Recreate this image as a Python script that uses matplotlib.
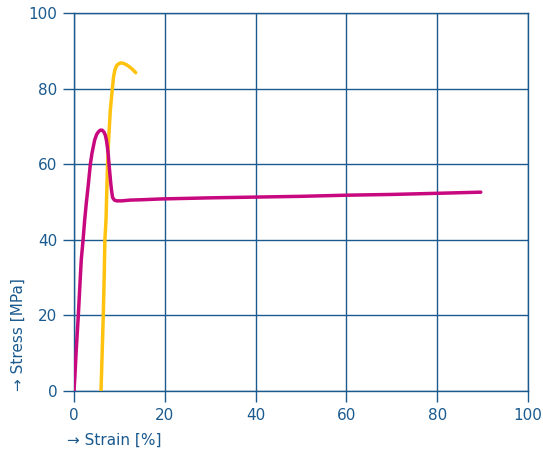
import matplotlib
matplotlib.use('Agg')
import matplotlib.pyplot as plt

# curve data (strain %, stress MPa)
magenta_strain = [0, 0.2, 0.5, 0.95, 1.3, 1.6, 2.0, 2.35, 2.7, 3.1, 3.6, 3.96, 4.55, 5.0, 5.4,
                  5.8, 6.2, 6.6, 6.9, 7.15, 7.35, 7.55, 7.7, 7.9, 8.1, 8.3, 8.5, 8.9, 9.4, 10.5,
                  12.3, 15, 19, 30, 40, 50, 60, 70, 80, 89.6]
magenta_stress = [0, 4, 11, 20, 28, 34.7, 40, 45.2, 49.6, 54, 60, 62.9, 66.4, 67.9, 68.6,
                  69.0, 69.0, 68.5, 67.7, 66.3, 64.6, 62.5, 60.2, 57.5, 54.9, 52.8, 51.2, 50.5, 50.3, 50.3,
                  50.5, 50.6, 50.8, 51.1, 51.3, 51.5, 51.8, 52.0, 52.3, 52.6]

yellow_strain = [5.95, 6.2, 6.45, 6.65, 6.8, 7.05, 7.2, 7.4, 7.65, 8.0, 8.45, 8.7, 9.0, 9.35,
                 9.75, 10.3, 10.85, 11.4, 11.95, 12.8, 13.6]
yellow_stress = [0, 10, 20, 30, 40, 45.2, 52, 60.2, 67, 74.3, 80, 83, 84.9, 86,
                 86.5, 86.8, 86.7, 86.4, 86, 85.2, 84.2]

x_ticks = [0, 20, 40, 60, 80, 100]
y_ticks = [0, 20, 40, 60, 80, 100]

blue = '#1b5a8e'

fig = plt.figure(figsize=(5.43, 4.53), dpi=100)
ax = fig.add_axes([74/543, 1-391/453, 454/543, 378/453])

ax.plot(yellow_strain, yellow_stress, color='#ffc20e', lw=2.5,
        solid_capstyle='round', solid_joinstyle='round', zorder=3)
ax.plot(magenta_strain, magenta_stress, color='#c8087e', lw=2.5,
        solid_capstyle='round', solid_joinstyle='round', zorder=4)

ax.set_xlim(0, 100)
ax.set_ylim(0, 100)
ax.set_xticks(x_ticks)
ax.set_yticks(y_ticks)
ax.grid(True, color=blue, lw=1)
for s in ax.spines.values():
    s.set_color(blue)
    s.set_linewidth(1)
ax.tick_params(colors=blue, length=8, width=1, pad=4, labelsize=11)

fig.text(67/543, 1-440/453, '\u2192 Strain [%]', color=blue, fontsize=11, ha='left', va='center')
fig.text(18/543, 1-391/453, '\u2192 Stress [MPa]', color=blue, fontsize=11, ha='center', va='bottom',
         rotation=90)

fig.savefig('out.png', dpi=100)
